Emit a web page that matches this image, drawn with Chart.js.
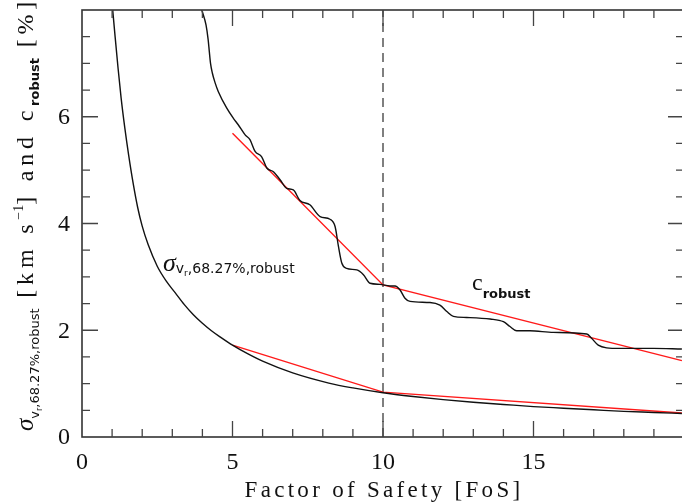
<!DOCTYPE html>
<html>
<head>
<meta charset="utf-8">
<script src="https://cdn.jsdelivr.net/npm/chart.js@4.4.0/dist/chart.umd.min.js"></script>
<style>
  html, body { margin: 0; padding: 0; background: #fff; overflow: hidden; }
  #wrap { width: 686px; height: 504px; }
</style>
</head>
<body>
<div id="wrap"><canvas id="fos" width="686" height="504"></canvas></div>
<script>
// sigma_{v_r,68.27%,robust} [km/s] against factor of safety
const sigmaX = [1.02, 1.10, 1.20, 1.30, 1.42, 1.55, 1.70, 1.85, 2.00, 2.20, 2.50, 2.80, 3.10, 3.40,
  3.70, 4.00, 4.30, 4.60, 5.00, 5.50, 6.00, 7.00, 8.20, 9.00, 10.0, 11.0, 12.0, 13.0, 14.0, 15.0,
  16.0, 17.0, 18.0, 19.0, 19.93];
const sigmaY = [8.0, 7.5, 6.9, 6.35, 5.8, 5.28, 4.75, 4.3, 3.95, 3.6, 3.2, 2.92, 2.70, 2.48,
  2.29, 2.13, 1.99, 1.87, 1.72, 1.56, 1.42, 1.20, 1.01, 0.92, 0.83, 0.76, 0.70, 0.65, 0.61, 0.57,
  0.54, 0.51, 0.48, 0.46, 0.44];

// c_robust [%] against factor of safety
const cX = [3.98, 4.12, 4.19, 4.23, 4.27, 4.33, 4.42, 4.53, 4.81, 5.03, 5.19, 5.42, 5.58, 5.75, 5.97, 6.14,
  6.36, 6.58, 6.80, 7.02, 7.24, 7.57, 7.91, 8.24, 8.41, 8.52, 8.63, 8.79, 9.13, 9.35, 9.57, 9.90,
  10.23, 10.40, 10.56, 10.73, 10.90, 11.56, 11.89, 12.12, 12.34, 12.78, 13.56, 14.00, 14.22, 14.44,
  14.88, 15.66, 16.77, 16.93, 17.15, 17.43, 17.87, 18.98, 19.93];
const cY = [8.0, 7.72, 7.45, 7.22, 7.0, 6.82, 6.64, 6.47, 6.16, 5.97, 5.85, 5.66, 5.57, 5.35, 5.25, 5.04,
  4.97, 4.82, 4.66, 4.63, 4.43, 4.35, 4.13, 4.08, 3.94, 3.57, 3.26, 3.16, 3.13, 3.04, 2.88, 2.86,
  2.83, 2.83, 2.76, 2.60, 2.54, 2.52, 2.47, 2.35, 2.26, 2.24, 2.21, 2.16, 2.07, 1.99,
  1.99, 1.96, 1.93, 1.85, 1.72, 1.67, 1.66, 1.66, 1.65];

// broken-line fits, joined at FoS = 10
const sigmaFitX = [5, 10, 19.93];
const sigmaFitY = [1.72, 0.84, 0.45];
const cFitX = [5, 10, 19.93];
const cFitY = [5.69, 2.85, 1.43];

const breakX = 10;
const xTickLabels = [0, 5, 10, 15];
const yTickLabels = [0, 2, 4, 6];

const serif = '"Liberation Serif", "DejaVu Serif", serif';
const sans = '"DejaVu Sans", "Liberation Sans", sans-serif';

function pts(xs, ys) {
  return xs.map((x, i) => ({ x: x, y: ys[i] }));
}

function drawRich(ctx, parts, x, y) {
  let cx = x;
  for (const p of parts) {
    ctx.font = p.font;
    ctx.letterSpacing = p.ls || "0px";
    ctx.fillText(p.text, cx, y + (p.dy || 0));
    cx += ctx.measureText(p.text).width;
  }
  ctx.letterSpacing = "0px";
}

const framePlugin = {
  id: "frame",
  beforeDatasetsDraw(chart) {
    const { ctx, chartArea: a, scales } = chart;
    const px = scales.x.getPixelForValue(breakX);
    ctx.save();
    ctx.strokeStyle = "#555";
    ctx.lineWidth = 1.5;
    ctx.setLineDash([9, 6]);
    ctx.beginPath();
    ctx.moveTo(px, a.bottom);
    ctx.lineTo(px, a.top);
    ctx.stroke();
    ctx.restore();
  },
  afterDatasetsDraw(chart) {
    const { ctx, chartArea: a, scales } = chart;
    const xs = scales.x, ys = scales.y;
    ctx.save();

    // box
    ctx.strokeStyle = "#333";
    ctx.lineWidth = 1.6;
    ctx.strokeRect(a.left, a.top, a.right - a.left, a.bottom - a.top);

    // inward ticks on all four sides
    ctx.strokeStyle = "#444";
    ctx.lineWidth = 1.3;
    ctx.beginPath();
    for (let v = 1; v < 20; v++) {
      const len = v % 5 === 0 ? 16 : 8;
      const p = xs.getPixelForValue(v);
      ctx.moveTo(p, a.bottom); ctx.lineTo(p, a.bottom - len);
      ctx.moveTo(p, a.top); ctx.lineTo(p, a.top + len);
    }
    for (let v = 0.5; v < 8; v += 0.5) {
      const len = v % 2 === 0 ? 16 : 8;
      const p = ys.getPixelForValue(v);
      ctx.moveTo(a.left, p); ctx.lineTo(a.left + len, p);
      ctx.moveTo(a.right, p); ctx.lineTo(a.right - len, p);
    }
    ctx.stroke();

    // tick labels
    ctx.fillStyle = "#111";
    ctx.font = `24px ${serif}`;
    ctx.textAlign = "center";
    ctx.textBaseline = "alphabetic";
    for (const v of xTickLabels) {
      ctx.fillText(String(v), xs.getPixelForValue(v), 469);
    }
    ctx.textAlign = "right";
    ctx.textBaseline = "middle";
    for (const v of yTickLabels) {
      ctx.fillText(String(v), 70, ys.getPixelForValue(v) + 1);
    }

    // x axis title
    ctx.textAlign = "center";
    ctx.textBaseline = "alphabetic";
    ctx.font = `23px ${serif}`;
    ctx.letterSpacing = "3.3px";
    ctx.fillText("Factor of Safety [FoS]", 384, 497);
    ctx.letterSpacing = "0px";

    // y axis title, rotated
    ctx.textAlign = "left";
    const main = `24px ${serif}`;
    ctx.save();
    ctx.translate(33, 431);
    ctx.rotate(-Math.PI / 2);
    drawRich(ctx, [
      { text: "σ", font: `italic 25px ${serif}` },
      { text: "v", font: `13px ${sans}`, dy: 6 },
      { text: "r", font: `8px ${sans}`, dy: 9 },
      { text: ",68.27%,robust", font: `13px ${sans}`, dy: 6 },
      { text: " [km s", font: main, ls: "4.8px" },
      { text: "−1", font: `14px ${serif}`, dy: -10 },
      { text: "] and c", font: main, ls: "4.8px" },
      { text: "robust", font: `bold 13px ${sans}`, dy: 6 },
      { text: " [%]", font: main, ls: "4.8px" }
    ], 0, 0);
    ctx.restore();

    // curve labels
    drawRich(ctx, [
      { text: "σ", font: `italic 26px ${serif}` },
      { text: "v", font: `14px ${sans}`, dy: 2 },
      { text: "r", font: `9px ${sans}`, dy: 5 },
      { text: ",68.27%,robust", font: `14px ${sans}`, dy: 2 }
    ], 163, 271);
    drawRich(ctx, [
      { text: "c", font: `24px ${serif}` },
      { text: "robust", font: `bold 13px ${sans}`, dy: 8 }
    ], 472, 290);

    ctx.restore();
  }
};

const line = (data, color) => ({
  data: data,
  borderColor: color,
  borderWidth: 1.4,
  pointRadius: 0,
  fill: false,
  cubicInterpolationMode: "monotone"
});

new Chart(document.getElementById("fos").getContext("2d"), {
  type: "line",
  data: {
    datasets: [
      line(pts(sigmaX, sigmaY), "#111"),
      line(pts(cX, cY), "#111"),
      { ...line(pts(sigmaFitX, sigmaFitY), "#ff1a1a"), cubicInterpolationMode: "default", tension: 0 },
      { ...line(pts(cFitX, cFitY), "#ff1a1a"), cubicInterpolationMode: "default", tension: 0 }
    ]
  },
  options: {
    responsive: false,
    animation: false,
    devicePixelRatio: 1,
    layout: { padding: { left: 82, top: 10, right: 2, bottom: 67 } },
    plugins: { legend: { display: false }, tooltip: { enabled: false } },
    scales: {
      x: { type: "linear", min: 0, max: 20, display: false },
      y: { type: "linear", min: 0, max: 8, display: false }
    }
  },
  plugins: [framePlugin]
});
</script>
</body>
</html>
